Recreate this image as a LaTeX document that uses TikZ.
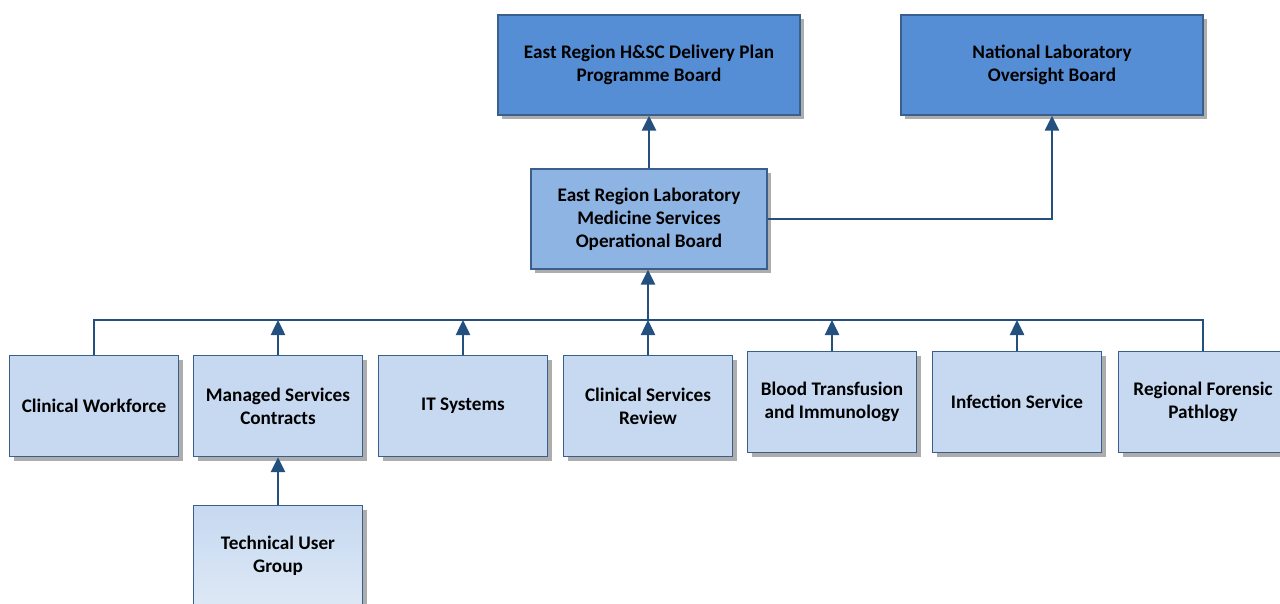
\documentclass[tikz,border=0pt]{standalone}
\usepackage{fontspec}
\setmainfont{Carlito}
\usetikzlibrary{positioning, arrows.meta, shadows}

\definecolor{boardblue}{HTML}{558ED5}
\definecolor{opsblue}{HTML}{8EB4E3}
\definecolor{groupblue}{HTML}{C6D9F1}
\definecolor{palegroup}{HTML}{DDE8F5}
\definecolor{edgeblue}{HTML}{3A5F8D}
\definecolor{linkblue}{HTML}{23507F}

\begin{document}
\begin{tikzpicture}[
            x=1pt, y=-1pt,
            font=\fontsize{19.2}{23}\selectfont\bfseries,
            >={Triangle[length=15pt, width=14pt]},
            box/.style={rectangle, draw=edgeblue, line width=1.3pt, inner sep=0pt, align=center,
                drop shadow={shadow xshift=4pt, shadow yshift=-4pt, fill=black!40, opacity=0.8}},
            board/.style={box, fill=boardblue, minimum width=302pt, minimum height=100pt},
            opsboard/.style={box, fill=opsblue, minimum width=236pt, minimum height=100pt},
            group/.style={box, fill=groupblue, minimum width=169pt, minimum height=101pt},
            link/.style={draw=linkblue, line width=2.5pt},
        ]
            \useasboundingbox (0,0) rectangle (1280,604);

            % Draw the boards at the top
            \node[board] (PB) at (649,65) {East Region H\&SC Delivery Plan\\Programme Board};
            \node[board] (NL) at (1052,65) {National Laboratory\\Oversight Board};

            % Draw the operational board
            \node[opsboard] (OB) at (649,219) {East Region Laboratory\\Medicine Services\\Operational Board};

            % Draw the groups
            \node[group] (CW) at (94,406) {Clinical Workforce};
            \node[group] (MS) at (278,406) {Managed Services\\Contracts};
            \node[group] (IT) at (463,406) {IT Systems};
            \node[group] (CS) at (648,406) {Clinical Services\\Review};
            \node[group] (BT) at (832,402) {Blood Transfusion\\and Immunology};
            \node[group] (IS) at (1017,402) {Infection Service};
            \node[group] (RF) at (1203,402) {Regional Forensic\\Pathlogy};
            \node[group, top color=groupblue, bottom color=palegroup] (TU) at (278,556) {Technical User\\Group};

            % Connect the groups to the operational board
            \coordinate (bus) at (648,320);
            \draw[link] (CW.north) -- (CW.north |- bus) -- (RF.north |- bus) -- (RF.north);
            \foreach \name in {MS, IT, CS, BT, IS}
                \draw[link, ->] (\name.north) -- (\name.north |- bus);
            \draw[link, ->] (bus) -- (bus |- OB.south);
            \draw[link, ->] (TU.north) -- (MS.south);

            % Connect the operational board to the boards
            \draw[link, ->] (OB.north) -- (PB.south);
            \draw[link, ->] (OB.east) -| (NL.south);
        \end{tikzpicture}
\end{document}
